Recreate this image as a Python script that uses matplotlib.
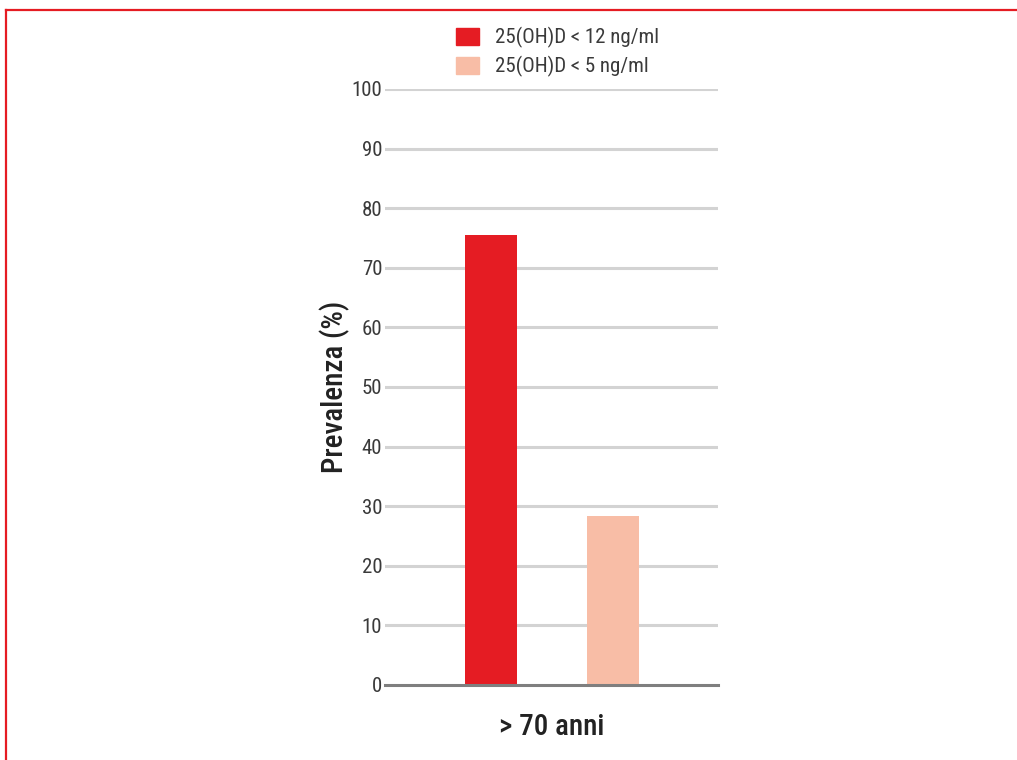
import matplotlib
matplotlib.use("Agg")
import matplotlib.pyplot as plt
from matplotlib.patches import Rectangle
from matplotlib import font_manager

names = {f.name for f in font_manager.fontManager.ttflist}
candidates = ["Roboto Condensed", "Archivo Narrow", "PT Sans Narrow", "Liberation Sans Narrow",
              "Arial Narrow", "Pragati Narrow", "Barlow Semi Condensed", "Liberation Sans"]
fam = next(c for c in candidates if c in names)
plt.rcParams["font.family"] = [fam, "DejaVu Sans"]

series = ["25(OH)D < 12 ng/ml", "25(OH)D < 5 ng/ml"]
values = [75.5, 28.4]
colors = ["#e51c23", "#f8bda6"]
category = "> 70 anni"
yticks = [0, 10, 20, 30, 40, 50, 60, 70, 80, 90, 100]

W, H = 1017, 760
fig = plt.figure(figsize=(W / 100, H / 100), dpi=100)
ax = fig.add_axes([385 / W, 1 - 685 / H, (718 - 385) / W, (685 - 89) / H])

xs = list(range(len(values)))
ax.bar(xs, values, width=0.426, color=colors, zorder=3)
ax.set_xlim(-0.87, 1.86)
ax.set_ylim(0, 100)
ax.set_yticks(yticks)
ax.set_yticklabels([str(t) for t in yticks], fontsize=15, color="#3a3a3a")
ax.tick_params(axis="y", length=0, pad=2)
ax.set_xticks([])
for t in yticks[1:]:
    ax.axhline(t, color="#d3d3d3", lw=2.2, zorder=1)
for s in ["top", "right", "left"]:
    ax.spines[s].set_visible(False)
ax.spines["bottom"].set_color("#7f7f7f")
ax.spines["bottom"].set_linewidth(2.2)
ax.spines["bottom"].set_zorder(4)

ax.set_ylabel("Prevalenza (%)", fontsize=21, color="#222222", labelpad=1, fontweight="medium")
ax.set_xlabel(category, fontsize=21, color="#222222", labelpad=20, fontweight="medium")

# legend
for i, (lab, c) in enumerate(zip(series, colors)):
    y0 = 28 + i * 29
    fig.patches.append(Rectangle((456 / W, 1 - (y0 + 17) / H), 23 / W, 17 / H,
                                 transform=fig.transFigure, color=c))
    fig.text(495 / W, 1 - (y0 + 9) / H, lab, fontsize=15, color="#3a3a3a",
             va="center", ha="left")

# frame border
fig.add_artist(plt.Line2D([6 / W, 6 / W], [0, 1 - 10 / H], color="#e51c23", lw=1.6,
                          transform=fig.transFigure))
fig.add_artist(plt.Line2D([6 / W, 1], [1 - 10 / H, 1 - 10 / H], color="#e51c23", lw=1.6,
                          transform=fig.transFigure))

fig.savefig("out.png", dpi=100)
